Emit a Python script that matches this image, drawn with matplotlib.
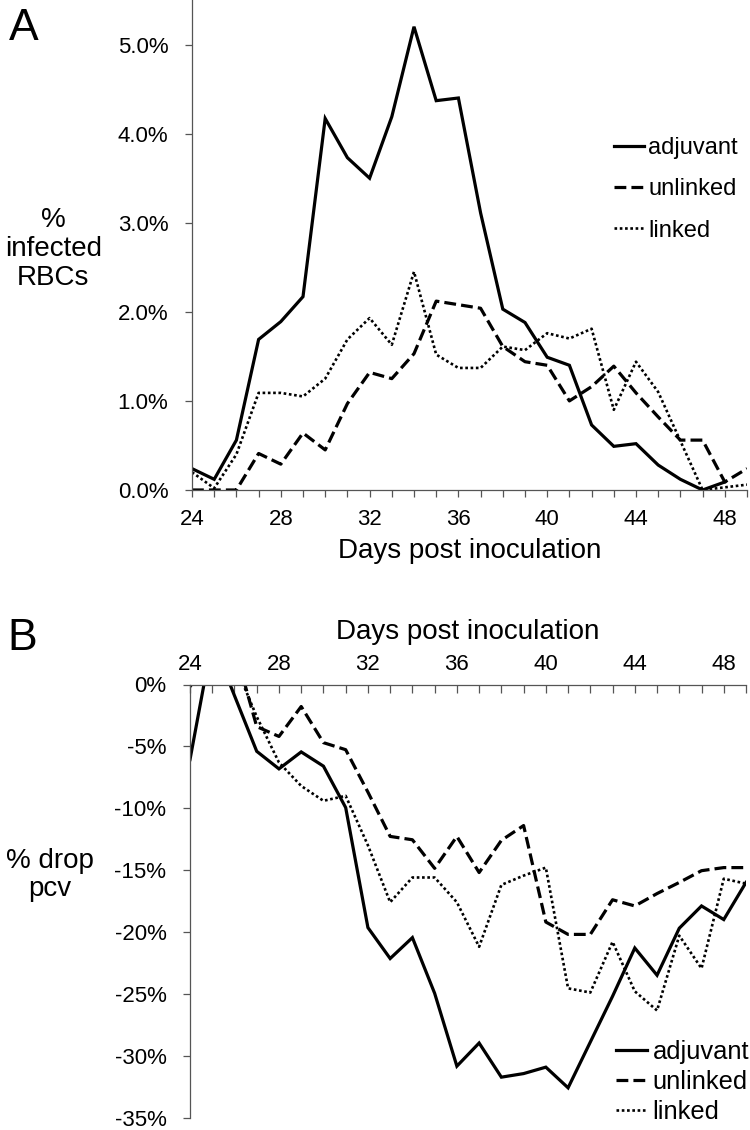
import numpy as np
import matplotlib
matplotlib.use("Agg")
import matplotlib.pyplot as plt
from matplotlib.ticker import FuncFormatter

plt.rcParams['font.family'] = ['Liberation Sans', 'DejaVu Sans']

days = list(range(24, 50))
tick_labels = [str(d) if (d - 24) % 4 == 0 else "" for d in days]
series_names = ["adjuvant", "unlinked", "linked"]

# panel A: % infected RBCs
inf_adjuvant = [0.24, 0.12, 0.56, 1.69, 1.89, 2.17, 4.17, 3.73, 3.50, 4.19, 5.20, 4.37, 4.40,
                3.11, 2.03, 1.88, 1.49, 1.40, 0.73, 0.49, 0.52, 0.28, 0.12, 0.00, 0.09, np.nan]
inf_unlinked = [0.00, 0.00, 0.00, 0.41, 0.29, 0.64, 0.45, 0.97, 1.32, 1.25, 1.53, 2.12, 2.08,
                2.04, 1.61, 1.44, 1.40, 1.00, 1.16, 1.39, 1.09, 0.82, 0.56, 0.56, 0.09, 0.24]
inf_linked = [0.20, 0.02, 0.40, 1.09, 1.09, 1.05, 1.25, 1.69, 1.93, 1.63, 2.45, 1.52, 1.37,
              1.37, 1.61, 1.57, 1.76, 1.70, 1.81, 0.90, 1.44, 1.10, 0.55, 0.00, 0.03, 0.06]

# panel B: % drop in pcv
pcv_adjuvant = [-6.07, 3.6, -0.9, -5.40, -6.82, -5.45, -6.6, -9.95, -19.65, -22.15, -20.46, -24.96, -30.85,
                -28.98, -31.74, -31.45, -30.93, -32.6, -28.9, -25.2, -21.3, -23.5, -19.7, -17.9, -19.0, -16.0]
pcv_unlinked = [1.0, 2.0, 3.0, -3.4, -4.2, -1.78, -4.7, -5.27, -8.7, -12.28, -12.55, -14.86, -12.28,
                -15.2, -12.6, -11.4, -19.2, -20.2, -20.2, -17.4, -17.9, -16.9, -16.0, -15.05, -14.8, -14.8]
pcv_linked = [-0.2, 2.0, 1.7, -2.6, -6.3, -8.2, -9.4, -9.0, -13.0, -17.6, -15.6, -15.6, -17.6,
              -21.2, -16.2, -15.45, -14.8, -24.56, -24.9, -20.8, -24.8, -26.35, -20.3, -22.95, -15.7, -16.1]

W, H = 750, 1130
fig = plt.figure(figsize=(W / 100, H / 100), dpi=100)

def px_axes(left, right, top, bottom):
    return fig.add_axes([left / W, 1 - bottom / H, (right - left) / W, (bottom - top) / H])

axis_col = "#555555"
styles = [dict(ls="-"), dict(ls=(0, (3.7, 1.6))), dict(ls=(0, (1, 1)), lw=1.9)]

def draw_lines(ax, data):
    for name, vals, st in zip(series_names, data, styles):
        kw = dict(color="black", lw=2.3, solid_joinstyle="miter", dash_capstyle="butt")
        kw.update(st)
        ax.plot(days, vals, label=name, **kw)

def style_axes(ax):
    for s in ["right", "top", "bottom"]:
        ax.spines[s].set_visible(False)
    ax.spines["left"].set_color(axis_col)
    ax.spines["left"].set_linewidth(0.9)
    ax.set_xlim(24, 49)
    ax.set_xticks(days)
    ax.set_xticklabels(tick_labels)
    ax.tick_params(axis="y", direction="out", length=5, width=0.9, color=axis_col, labelsize=16, pad=12)

# ---- panel A ----
axA = px_axes(192, 747, 0, 490)
draw_lines(axA, [inf_adjuvant, inf_unlinked, inf_linked])
style_axes(axA)
axA.spines["bottom"].set_visible(True)
axA.spines["bottom"].set_color(axis_col)
axA.spines["bottom"].set_linewidth(0.9)
axA.set_ylim(0, 5.5)
axA.set_yticks([0, 1, 2, 3, 4, 5])
axA.yaxis.set_major_formatter(FuncFormatter(lambda v, p: f"{v:.1f}%"))
axA.tick_params(axis="x", direction="out", length=5, width=0.9, color=axis_col, labelsize=16, pad=9)
axA.set_xlabel("Days post inoculation", fontsize=20)
axA.xaxis.set_label_coords(0.5, -0.098)
axA.set_ylabel("%\ninfected\nRBCs", fontsize=20, rotation=0, ha="center", va="center", linespacing=1.15)
axA.yaxis.set_label_coords(-0.25, 0.492)
axA.legend(loc="center left", bbox_to_anchor=(0.760, 0.614), frameon=False, fontsize=17,
           handlelength=1.29, handletextpad=0.17, borderpad=0, borderaxespad=0, labelspacing=0.82)

# ---- panel B ----
axB = px_axes(190, 746, 684.5, 1117.5)
draw_lines(axB, [pcv_adjuvant, pcv_unlinked, pcv_linked])
style_axes(axB)
axB.spines["top"].set_visible(True)
axB.spines["top"].set_color(axis_col)
axB.spines["top"].set_linewidth(0.9)
axB.set_ylim(-35, 0)
axB.set_yticks(np.arange(-35, 1, 5))
axB.yaxis.set_major_formatter(FuncFormatter(lambda v, p: f"{v:.0f}%"))
axB.xaxis.tick_top()
axB.xaxis.set_label_position("top")
axB.tick_params(axis="x", direction="in", length=6, width=0.9, color=axis_col, labelsize=16, pad=7)
axB.set_xlabel("Days post inoculation", fontsize=20)
axB.xaxis.set_label_coords(0.5, 1.105)
axB.set_ylabel("% drop\npcv", fontsize=20, rotation=0, ha="center", va="center", linespacing=1.1)
axB.yaxis.set_label_coords(-0.252, 0.56)
axB.legend(loc="center left", bbox_to_anchor=(0.767, 0.082), frameon=False, fontsize=18.4,
           handlelength=1.21, handletextpad=0.2, borderpad=0, borderaxespad=0, labelspacing=0.22)

fig.text(24 / W, 1 - 29 / H, "A", fontsize=32, ha="center", va="center")
fig.text(22 / W, 1 - 639 / H, "B", fontsize=32, ha="center", va="center")

fig.savefig("out.png", dpi=100)
